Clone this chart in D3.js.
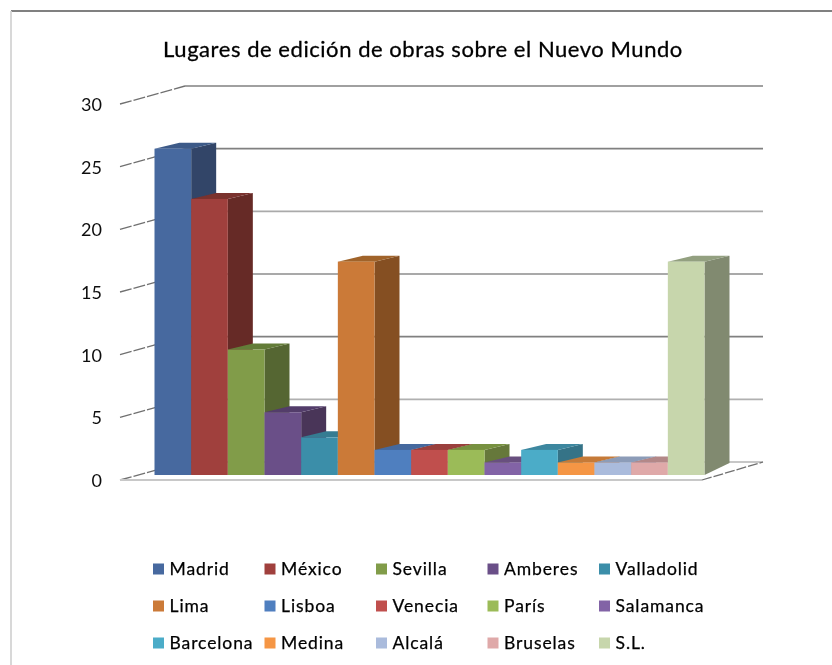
<!DOCTYPE html>
<html><head><meta charset="utf-8">
<script src="https://cdn.jsdelivr.net/npm/d3@7/dist/d3.min.js"></script>
<style>html,body{margin:0;padding:0;background:#fff}svg{display:block}</style>
</head><body><svg id="c" width="832" height="665"></svg>
<script>
const titleText = "Lugares de edición de obras sobre el Nuevo Mundo";
const categories = ["Madrid","México","Sevilla","Amberes","Valladolid","Lima","Lisboa","Venecia","París","Salamanca","Barcelona","Medina","Alcalá","Bruselas","S.L."];
const values = [26,22,10,5,3,17,2,2,2,1,2,1,1,1,17];
const frontColors = ["#46699f","#a0403c","#819c4a","#6b5088","#3a8ea9","#cb7a38","#4f7fbf","#c0504e","#9bbb59","#8263a6","#4bacc8","#f59645","#aabbdc","#dfa9a9","#c7d6ac"];
const sideColors = ["#334567","#662a27","#556630","#493659","#2f6c80","#855022","#3c5f8e","#8f3b39","#66783a","#5e4877","#367387","#b86f30","#7f8ca5","#a67e7e","#818a70"];
const topColors = ["#3c5a88","#7a302d","#647c38","#533c6b","#347b92","#a0642c","#44699e","#9a3f3d","#77913f","#68507f","#3d879f","#c57a38","#8c9cb8","#b38888","#93a080"];
const yTicks = [0,5,10,15,20,25,30];
const gridColors = ["#b4b4b4","#b0b0b0","#808080","#8c8c8c","#aaaaaa","#808080","#808080"];
const legendCols = 5;

const svg = d3.select("#c");
const defs = svg.append("defs");
defs.append("filter").attr("id","soft").attr("filterUnits","userSpaceOnUse").attr("x",0).attr("y",0).attr("width",832).attr("height",665)
  .append("feGaussianBlur").attr("stdDeviation",0.6);
const root = svg.append("g").attr("filter","url(#soft)");

// scales
const x = d3.scaleBand().domain(categories).range([154.5,704.5]).padding(0);
const yBar = d3.scaleLinear().domain([0,30]).range([475,98.5]);
const yFront = d3.scaleLinear().domain([0,30]).range([480,104]);
const yBack = d3.scaleLinear().domain([0,30]).range([462,86]);
const frontX = 120, backX = 185, rightX = 763, rightFrontX = 702;
const barDx = 25, barDy = -6, barBottomDy = -12;

// frame
root.append("path").attr("d","M11,11H832").attr("stroke","#808080").attr("stroke-width",1.8).attr("fill","none");
root.append("path").attr("d","M11,11V665").attr("stroke","#d4d4d4").attr("stroke-width",1.8).attr("fill","none");

// title
root.append("text").attr("x",423).attr("y",57).attr("text-anchor","middle")
  .attr("font-family","Lato").attr("font-size",22).attr("letter-spacing",0.55)
  .attr("fill","#000").attr("stroke","#000").attr("stroke-width",0.3).text(titleText);

// back gridlines
root.append("g").selectAll("line").data(yTicks).join("line")
  .attr("x1",backX).attr("x2",rightX).attr("y1",yBack).attr("y2",yBack)
  .attr("stroke",(d,i)=>gridColors[i]).attr("stroke-width",1.7);

// side wall ticks
root.append("g").selectAll("line").data(yTicks).join("line")
  .attr("x1",frontX).attr("x2",backX).attr("y1",yFront).attr("y2",yBack)
  .attr("stroke","#707070").attr("stroke-width",1.3).attr("stroke-dasharray","12 2");

// floor
root.append("line").attr("x1",frontX).attr("x2",rightFrontX).attr("y1",yFront(0)).attr("y2",yFront(0)).attr("stroke","#c8c8c8").attr("stroke-width",1.8);
root.append("line").attr("x1",rightFrontX).attr("x2",rightX).attr("y1",yFront(0)).attr("y2",yBack(0)).attr("stroke","#707070").attr("stroke-width",1.3).attr("stroke-dasharray","10 2");

// bars
const line = d3.line();
const bars = root.append("g").selectAll("g").data(categories).join("g");
bars.append("path").attr("fill",(d,i)=>sideColors[i]).attr("d",(d,i)=>{
  const r = x(d)+x.bandwidth(), t = yBar(values[i]), b = yBar(0);
  return line([[r,b],[r,t],[r+barDx,t+barDy],[r+barDx,b+barBottomDy]])+"Z";
});
bars.append("path").attr("fill",(d,i)=>topColors[i]).attr("d",(d,i)=>{
  const l = x(d), r = l+x.bandwidth(), t = yBar(values[i]);
  return line([[l,t],[l+barDx,t+barDy],[r+barDx,t+barDy],[r,t]])+"Z";
});
bars.append("rect").attr("fill",(d,i)=>frontColors[i])
  .attr("x",d=>x(d)).attr("width",x.bandwidth())
  .attr("y",(d,i)=>yBar(values[i])).attr("height",(d,i)=>yBar(0)-yBar(values[i]));

// y labels
root.append("g").selectAll("text").data(yTicks).join("text")
  .attr("x",102).attr("y",d=>yFront(d)+7).attr("text-anchor","end")
  .attr("font-family","Lato").attr("font-size",18).attr("fill","#111").text(d=>d);

// legend
const legX = d3.scaleLinear().domain([0,legendCols-1]).range([153,599]);
const legY = d3.scaleLinear().domain([0,2]).range([569,643]);
const leg = root.append("g").selectAll("g").data(categories).join("g")
  .attr("transform",(d,i)=>`translate(${legX(i%legendCols)},${legY(Math.floor(i/legendCols))})`);
leg.append("rect").attr("x",0).attr("y",-5.5).attr("width",11).attr("height",11).attr("fill",(d,i)=>frontColors[i]);
leg.append("text").attr("x",16.5).attr("y",5.5)
  .attr("font-family","Lato").attr("font-size",17.5).attr("letter-spacing",0.9)
  .attr("fill","#000").attr("stroke","#000").attr("stroke-width",0.25).text(d=>d);
</script></body></html>
